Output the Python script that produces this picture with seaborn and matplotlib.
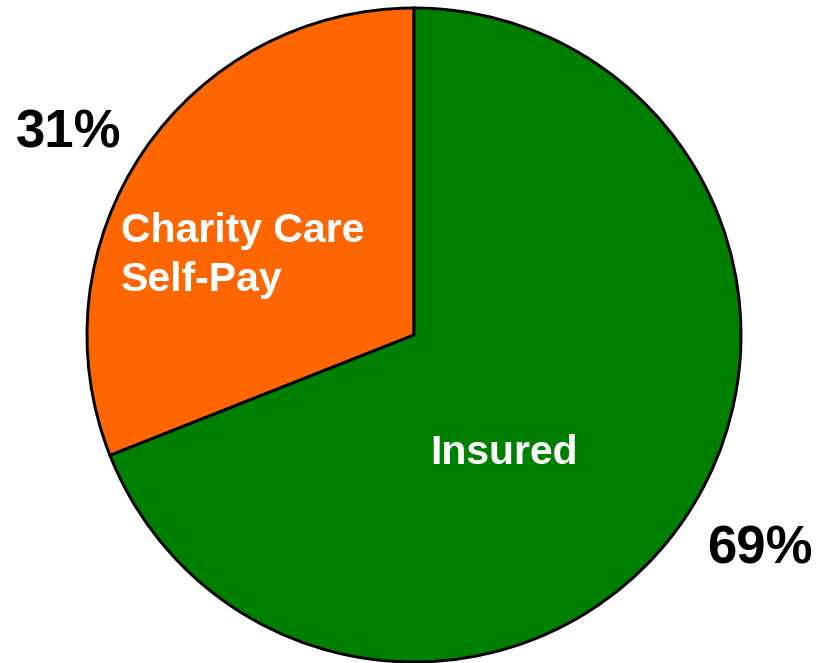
import matplotlib
matplotlib.use("Agg")
import matplotlib.pyplot as plt
import seaborn as sns

categories = ["Charity Care\nSelf-Pay", "Insured"]
values = [31, 69]
pct_labels = ["31%", "69%"]
colors = ["#FF6600", "#008000"]

sns.set_theme(style="white")
plt.rcParams["font.family"] = ["Liberation Sans", "DejaVu Sans"]

W, H = 816, 663
fig = plt.figure(figsize=(W / 100, H / 100), dpi=100)
ax = fig.add_axes([0, 0, 1, 1])

cx, cy, r = 414, H - 335, 327
ax.pie(values, colors=colors, startangle=90, counterclock=True,
       center=(cx, cy), radius=r,
       wedgeprops=dict(edgecolor="black", linewidth=2.1))
ax.set_xlim(0, W)
ax.set_ylim(0, H)
ax.set_aspect("equal")
ax.axis("off")

def px(x, y):
    return x, H - y

# inner category labels
lines = categories[0].split("\n")
ax.text(*px(121, 242), lines[0], color="white", fontsize=29.5, fontweight="bold",
        ha="left", va="baseline")
ax.text(*px(121, 291), lines[1], color="white", fontsize=29.5, fontweight="bold",
        ha="left", va="baseline")
ax.text(*px(430, 464), categories[1], color="white", fontsize=29.5, fontweight="bold",
        ha="left", va="baseline")

# percentage labels
ax.text(*px(16, 148), pct_labels[0], color="black", fontsize=38, fontweight="bold",
        ha="left", va="baseline")
ax.text(*px(707, 563), pct_labels[1], color="black", fontsize=38, fontweight="bold",
        ha="left", va="baseline")

fig.savefig("out.png", dpi=100)
